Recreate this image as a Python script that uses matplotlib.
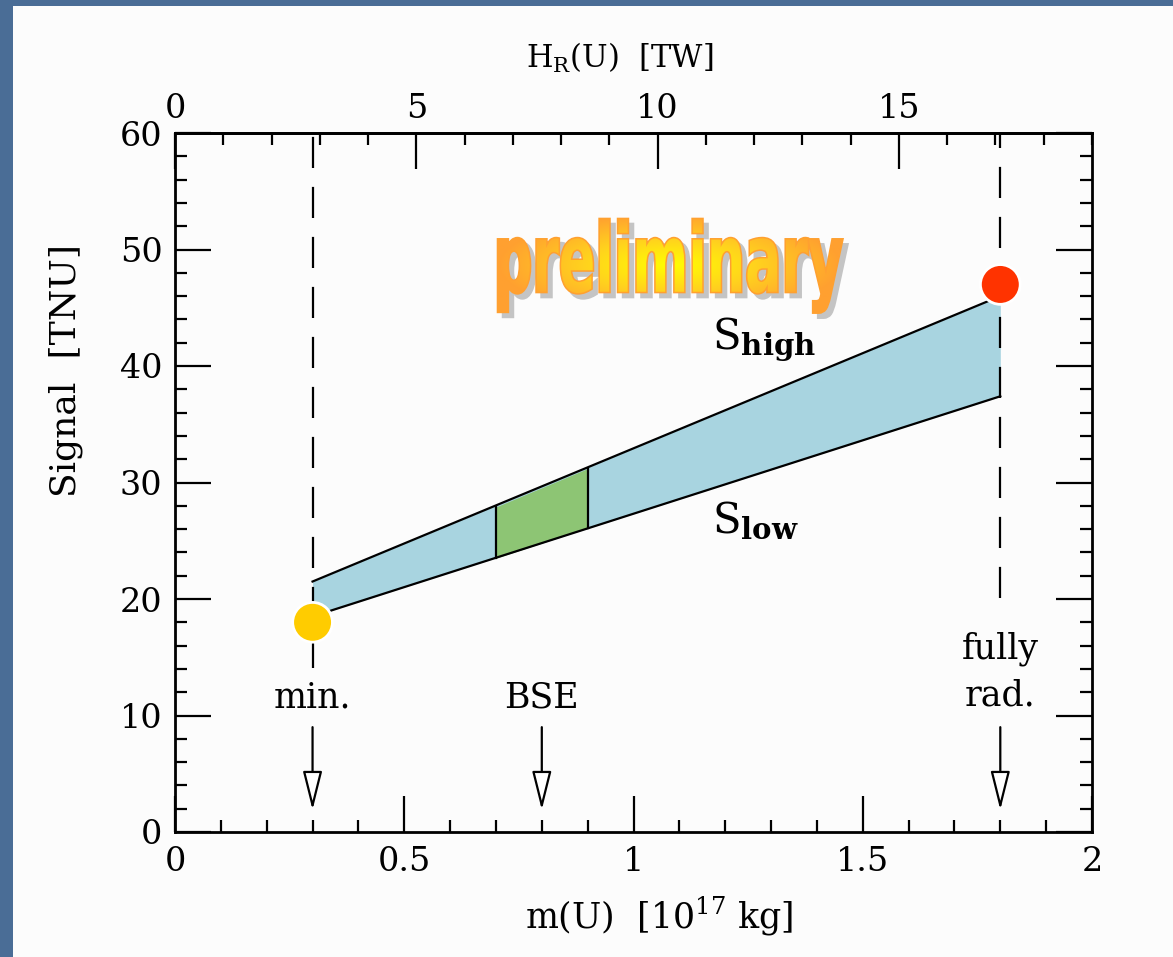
import numpy as np
import matplotlib
matplotlib.use('Agg')
import matplotlib.pyplot as plt
from matplotlib.ticker import MultipleLocator, FormatStrFormatter
from matplotlib.textpath import TextPath
from matplotlib.patches import PathPatch, Rectangle
from matplotlib.transforms import Affine2D
from matplotlib.font_manager import FontProperties
from matplotlib.colors import LinearSegmentedColormap

plt.rcParams['font.family'] = ['DejaVu Serif']
plt.rcParams['mathtext.fontset'] = 'dejavuserif'

# values
band_m = [0.3, 1.8]            # m(U) [1e17 kg]
s_high = [21.5, 46.0]          # TNU
s_low = [18.5, 37.4]
bse_m = [0.7, 0.9]
bse_high = [27.9, 31.2]
bse_low = [23.5, 26.1]
point_m = [0.3, 1.8]
point_s = [18.0, 47.0]
point_colors = ['#ffcc00', '#ff3300']
tw_per_m = 9.5                 # H_R(U) [TW] per 1e17 kg

arrow_m = [0.3, 0.8, 1.8]
label_m = [0.3, 0.8, 1.8, 1.8]
label_y = [10.7, 10.7, 14.9, 10.9]
label_text = ['min.', 'BSE', 'fully', 'rad.']
dashed_m = [0.3, 1.8]
dashed_bottom = [14.1, 20.1]

fig = plt.figure(figsize=(11.73, 9.57), dpi=100)
fig.patch.set_facecolor('#4a6d96')
fig.add_artist(Rectangle((13 / 1173, 0), 1, 951 / 957, transform=fig.transFigure,
                         fc='#fcfcfc', ec='none', zorder=-10))

ax = fig.add_axes([175 / 1173, 125 / 957, 917 / 1173, 699 / 957])
ax.set_facecolor('#fcfcfc')
ax.set_xlim(0, 2)
ax.set_ylim(0, 60)

# band and BSE region
ax.fill_between(band_m, s_low, s_high, color='#a8d4e0', lw=0, zorder=2)
ax.fill_between(bse_m, bse_low, bse_high, color='#8dc574', lw=0, zorder=2)
ax.plot(band_m, s_high, color='black', lw=1.6, zorder=3)
ax.plot(band_m, s_low, color='black', lw=1.6, zorder=3)
for i in range(2):
    ax.plot([bse_m[i], bse_m[i]], [bse_low[i], bse_high[i]], color='black', lw=1.6, zorder=3)

# dashed verticals
for xm, yb in zip(dashed_m, dashed_bottom):
    ax.plot([xm, xm], [yb, 60], color='black', lw=1.6, dashes=(14, 8.5), zorder=2.5)

ax.scatter(point_m, point_s, s=820, c=point_colors, edgecolors='white', linewidths=2, zorder=5)

# labels and arrows
for xm, yt, t in zip(label_m, label_y, label_text):
    ax.text(xm, yt, t, ha='center', va='baseline', fontsize=25)
for xm in arrow_m:
    ax.annotate('', xy=(xm, 1.9), xytext=(xm, 9.0),
                arrowprops=dict(arrowstyle='-|>,head_length=1.2,head_width=0.3',
                                mutation_scale=20, fc='white', ec='black', lw=1.6,
                                shrinkA=0, shrinkB=0))

ax.text(1.171, 41.5, r'S$_{\mathbf{high}}$', fontsize=30, ha='left', va='baseline')
ax.text(1.171, 25.7, r'S$_{\mathbf{low}}$', fontsize=30, ha='left', va='baseline')

# "preliminary" stamp
fp = FontProperties(family='DejaVu Sans', weight='bold')
tp = TextPath((0, 0), 'preliminary', size=1, prop=fp)
ext = tp.get_extents()
x0, x1, y0, y1 = 0.705, 1.455, 44.6, 52.6
tr = Affine2D().translate(-ext.x0, -ext.y0).scale((x1 - x0) / ext.width, (y1 - y0) / ext.height).translate(x0, y0)
path = tr.transform_path(tp)
shadow = Affine2D().translate(0.011, -0.43).transform_path(path)
ax.add_patch(PathPatch(shadow, fc='#c4c4c4', ec='#c4c4c4', lw=2.2, zorder=6))
ax.add_patch(PathPatch(path, fc='#ffa030', ec='#ffa030', lw=2.2, zorder=6.5))
clip = PathPatch(path, fc='none', ec='none', zorder=7)
ax.add_patch(clip)
gx, gy = np.meshgrid(np.linspace(-1, 1, 300), np.linspace(-1, 1, 100))
r = np.sqrt(gx ** 2 + (gy * 0.9) ** 2)
cmap = LinearSegmentedColormap.from_list('prelim', ['#ffff00', '#ffd21e', '#ffa030'])
img = ax.imshow(r, extent=(x0, x1, y0, y1), cmap=cmap, vmin=0, vmax=1.0, aspect='auto',
                origin='lower', zorder=7, interpolation='bilinear')
img.set_clip_path(clip)
ax.set_xlim(0, 2)
ax.set_ylim(0, 60)

# axes styling
for sp in ax.spines.values():
    sp.set_linewidth(2)
ax.xaxis.set_major_locator(MultipleLocator(0.5))
ax.xaxis.set_minor_locator(MultipleLocator(0.1))
ax.xaxis.set_major_formatter(FormatStrFormatter('%g'))
ax.yaxis.set_major_locator(MultipleLocator(10))
ax.yaxis.set_minor_locator(MultipleLocator(2))
ax.tick_params(which='both', direction='in', top=False, right=True, labelsize=24, width=1.6)
ax.tick_params(which='major', length=26)
ax.tick_params(which='minor', length=8.5)
ax.tick_params(axis='x', pad=10)
ax.tick_params(axis='y', pad=9)

secax = ax.secondary_xaxis('top', functions=(lambda m: m * tw_per_m, lambda h: h / tw_per_m))
secax.xaxis.set_major_locator(MultipleLocator(5))
secax.xaxis.set_minor_locator(MultipleLocator(1))
secax.tick_params(which='both', direction='in', labelsize=24, width=1.6, pad=6)
secax.tick_params(which='major', length=26)
secax.tick_params(which='minor', length=8.5)
secax.spines['top'].set_linewidth(2)

ax.set_xlabel(r'm(U)  [10$^{17}$ kg]', fontsize=25)
ax.xaxis.set_label_coords(0.528, -0.09)
ax.set_ylabel('Signal  [TNU]', fontsize=26)
ax.yaxis.set_label_coords(-0.1, 0.66)
ax.text(0.485, 1.107, r'H$_\mathrm{R}$(U)  [TW]', transform=ax.transAxes, fontsize=22,
        ha='center', va='center')

fig.savefig('out.png', dpi=100, facecolor=fig.get_facecolor())
